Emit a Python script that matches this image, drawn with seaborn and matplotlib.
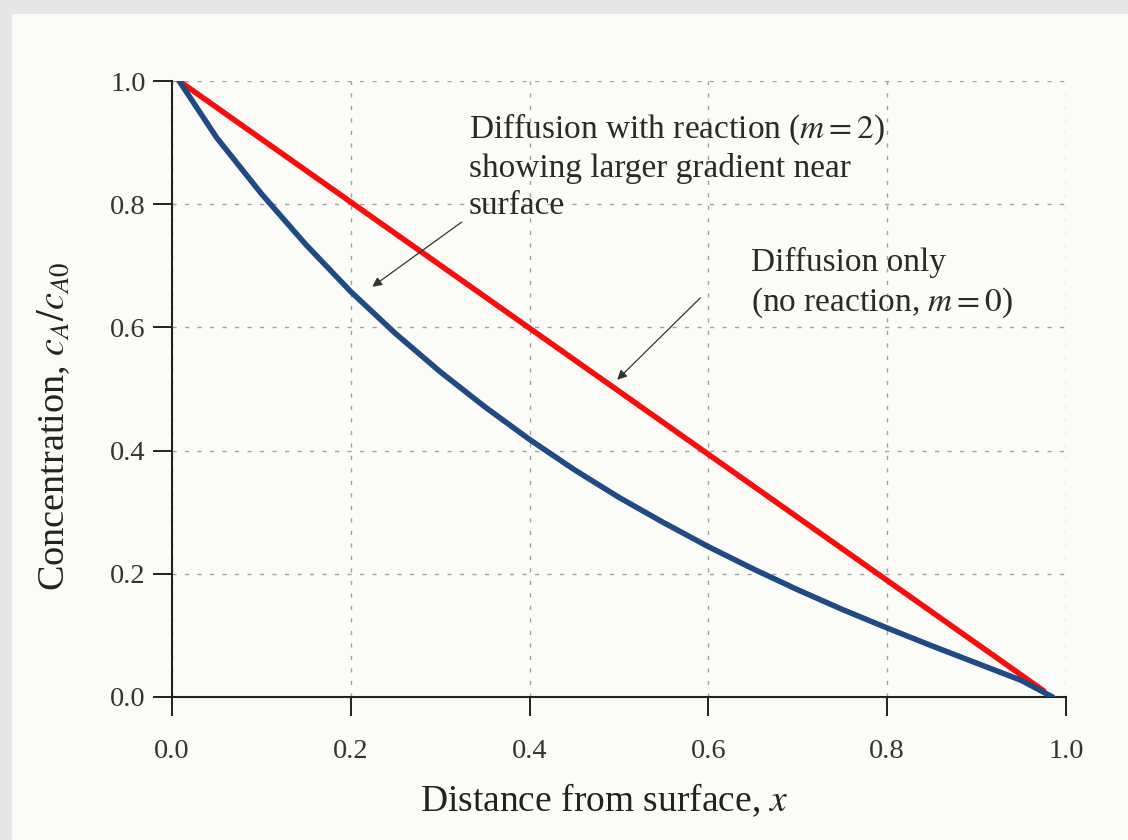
import matplotlib
matplotlib.use("Agg")
import matplotlib.pyplot as plt
import seaborn as sns
import pandas as pd
from matplotlib.patches import Rectangle

# ---- data ----
x_reaction = [0.008, 0.05, 0.10, 0.15, 0.20, 0.25, 0.30, 0.35, 0.40, 0.45,
              0.50, 0.55, 0.60, 0.65, 0.70, 0.75, 0.80, 0.85, 0.90, 0.95, 0.985]
c_reaction = [1.0, 0.908, 0.817, 0.734, 0.658, 0.590, 0.528, 0.471, 0.418, 0.369,
              0.324, 0.283, 0.244, 0.208, 0.174, 0.142, 0.112, 0.083, 0.055, 0.027, 0.0]
x_diffusion = [0.008, 0.975]
c_diffusion = [1.0, 0.01]

x_ticks = [0.0, 0.2, 0.4, 0.6, 0.8, 1.0]
y_ticks = [0.0, 0.2, 0.4, 0.6, 0.8, 1.0]
tick_labels = ["0.0", "0.2", "0.4", "0.6", "0.8", "1.0"]

label_reaction = "Diffusion with reaction ($m = 2$)\nshowing larger gradient near\nsurface"
label_diffusion = "Diffusion only\n(no reaction, $m = 0$)"

df_r = pd.DataFrame({"x": x_reaction, "c": c_reaction})
df_d = pd.DataFrame({"x": x_diffusion, "c": c_diffusion})

sns.set_theme(style="ticks")
plt.rcParams["font.family"] = ["Liberation Serif", "DejaVu Serif"]
plt.rcParams["mathtext.fontset"] = "stix"

paper = "#fbfcf8"
fig = plt.figure(figsize=(11.28, 8.4), dpi=100, facecolor="#e6e6e6")
fig.patches.append(Rectangle((12 / 1128, 0), 1 - 12 / 1128, 1 - 14 / 840,
                             transform=fig.transFigure, facecolor=paper,
                             edgecolor="none", zorder=-10))
ax = fig.add_axes([172 / 1128, 1 - 697 / 840, (1066 - 172) / 1128, (697 - 81) / 840])
ax.set_facecolor(paper)

sns.lineplot(data=df_d, x="x", y="c", ax=ax, color="#ff0a0a", lw=4.0,
             sort=False, zorder=3)
sns.lineplot(data=df_r, x="x", y="c", ax=ax, color="#1f4a86", lw=4.0,
             sort=False, zorder=4)

ax.set_xlim(0, 1.0)
ax.set_ylim(0, 1.0)
ax.set_xticks(x_ticks)
ax.set_xticklabels(tick_labels)
ax.set_yticks(y_ticks)
ax.set_yticklabels(tick_labels)
ax.tick_params(axis="both", direction="out", length=14, width=1.4,
               colors="#222222", labelsize=20.5, labelcolor="#333333")
ax.tick_params(axis="y", pad=5)
ax.tick_params(axis="x", pad=16)

ax.grid(True, linestyle=(0, (3, 6)), color="#a0a0a0", lw=1.0, zorder=0)
for side in ["top", "right"]:
    ax.spines[side].set_visible(False)
for side in ["left", "bottom"]:
    ax.spines[side].set_color("#222222")
    ax.spines[side].set_linewidth(1.5)

ax.set_xlabel("Distance from surface, $x$", fontsize=27, color="#222222")
ax.set_ylabel("Concentration, $c_A/c_{A0}$", fontsize=27.5, color="#222222")
ax.xaxis.set_label_coords(0.484, -0.138)
ax.yaxis.set_label_coords(-0.112, 0.44)

ax.text(0.332, 0.95, label_reaction, fontsize=24, color="#2a2a2a",
        va="top", ha="left", linespacing=1.25)
ax.text(0.648, 0.731, label_diffusion, fontsize=24, color="#2a2a2a",
        va="top", ha="left", linespacing=1.3)

ax.annotate("", xy=(0.224, 0.666), xytext=(0.324, 0.771),
            arrowprops=dict(arrowstyle="-|>", color="#333333", lw=0.9,
                            mutation_scale=14, shrinkA=0, shrinkB=0))
ax.annotate("", xy=(0.498, 0.515), xytext=(0.591, 0.648),
            arrowprops=dict(arrowstyle="-|>", color="#333333", lw=0.9,
                            mutation_scale=14, shrinkA=0, shrinkB=0))

fig.savefig("out.png", dpi=100, facecolor=fig.get_facecolor())
